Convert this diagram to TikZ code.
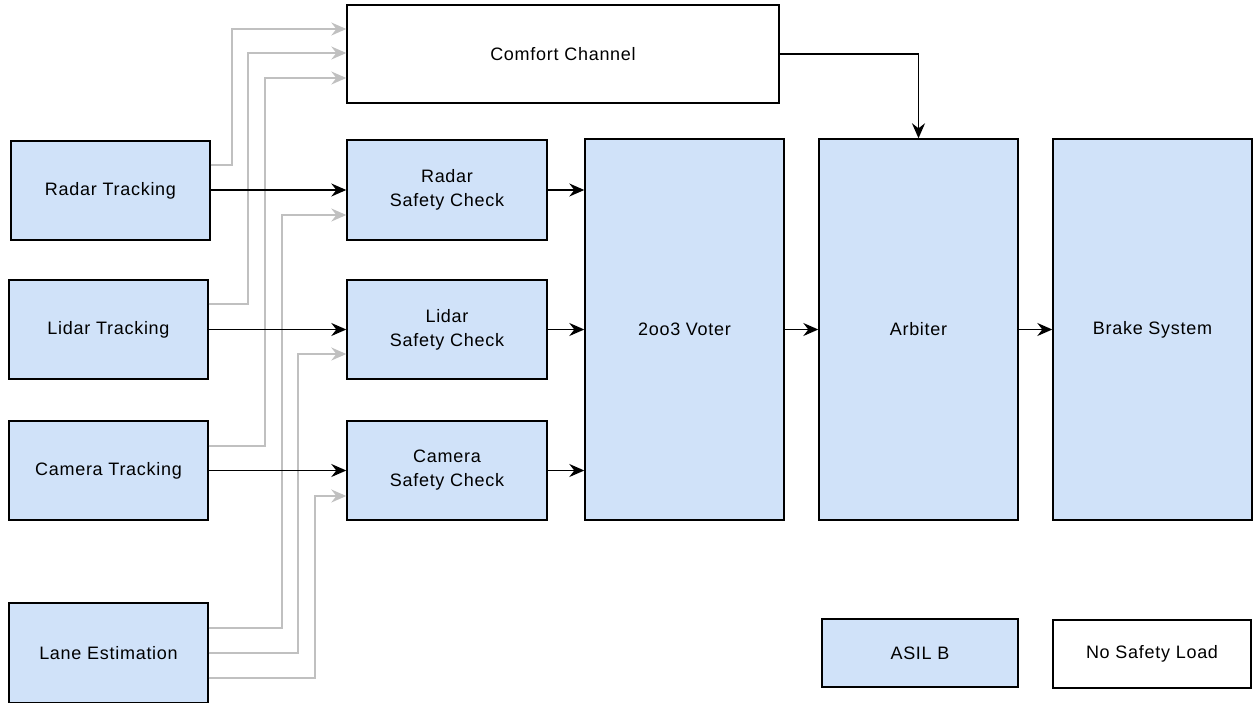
\documentclass[tikz,border=0pt]{standalone}
\usepackage{fontspec}
\setmainfont{Liberation Sans}[LetterSpace=4]
\usetikzlibrary{arrows.meta}
\definecolor{asilfill}{HTML}{D0E2F9}
\definecolor{feedgray}{HTML}{C0C0C0}
\tikzset{
  block/.style={draw=black, line width=1.4pt, inner sep=0pt, align=center,
    font=\fontsize{18}{24}\selectfont},
  asil/.style={block, fill=asilfill},
  plain/.style={block, fill=white},
  tip/.style={-{Stealth[length=15pt, width=13pt, inset=5pt]}},
  flow/.style={line width=1.6pt, draw=black, tip},
  feed/.style={line width=1.6pt, draw=feedgray, tip}
}
\begin{document}
\begin{tikzpicture}[x=1pt, y=-1pt]
\useasboundingbox (0,0) rectangle (1253,702);

% comfort path
\node[plain, minimum width=432, minimum height=98] (comfort) at (563,54) {Comfort Channel};

% sensor tracking inputs
\node[asil, minimum width=199, minimum height=99] (radarT)  at (110.5,190.5) {Radar Tracking};
\node[asil, minimum width=199, minimum height=99] (lidarT)  at (108.5,329.5) {Lidar Tracking};
\node[asil, minimum width=199, minimum height=99] (cameraT) at (108.5,470.5) {Camera Tracking};
\node[asil, minimum width=199, minimum height=100] (lane)   at (108.5,653)   {Lane Estimation};

% safety checks
\node[asil, minimum width=200, minimum height=100] (radarSC)  at (447,190)   {Radar\\Safety Check};
\node[asil, minimum width=200, minimum height=99]  (lidarSC)  at (447,329.5) {Lidar\\Safety Check};
\node[asil, minimum width=200, minimum height=99]  (cameraSC) at (447,470.5) {Camera\\Safety Check};

% voting, arbitration, actuation
\node[asil, minimum width=199, minimum height=381] (voter)   at (684.5,329.5)  {2oo3 Voter};
\node[asil, minimum width=199, minimum height=381] (arbiter) at (918.5,329.5)  {Arbiter};
\node[asil, minimum width=199, minimum height=381] (brake)   at (1152.5,329.5) {Brake System};

% legend
\node[asil,  minimum width=196, minimum height=68] (legA) at (920,653)  {ASIL B};
\node[plain, minimum width=198, minimum height=68] (legN) at (1152,654) {No Safety Load};

% feeds into the comfort channel
\draw[feed] (radarT.east |- 0,165)  -| (232,29) -- (comfort.west |- 0,29);
\draw[feed] (lidarT.east |- 0,304)  -| (248,53) -- (comfort.west |- 0,53);
\draw[feed] (cameraT.east |- 0,446) -| (265,78) -- (comfort.west |- 0,78);

% lane estimation into each safety check
\draw[feed] (lane.east |- 0,628) -| (282,215) -- (radarSC.west |- 0,215);
\draw[feed] (lane.east |- 0,653) -| (298,354) -- (lidarSC.west |- 0,354);
\draw[feed] (lane.east |- 0,678) -| (315,496) -- (cameraSC.west |- 0,496);

% tracking into safety checks
\draw[flow] (radarT.east |- radarSC.west)   -- (radarSC.west);
\draw[flow] (lidarT.east |- lidarSC.west)   -- (lidarSC.west);
\draw[flow] (cameraT.east |- cameraSC.west) -- (cameraSC.west);

% safety checks into the voter
\draw[flow] (radarSC.east)  -- (voter.west |- radarSC.east);
\draw[flow] (lidarSC.east)  -- (voter.west |- lidarSC.east);
\draw[flow] (cameraSC.east) -- (voter.west |- cameraSC.east);

% voter to arbiter to brakes
\draw[flow] (voter.east) -- (arbiter.west);
\draw[flow] (arbiter.east) -- (brake.west);
\draw[flow] (comfort.east) -| (arbiter.north);
\end{tikzpicture}
\end{document}
